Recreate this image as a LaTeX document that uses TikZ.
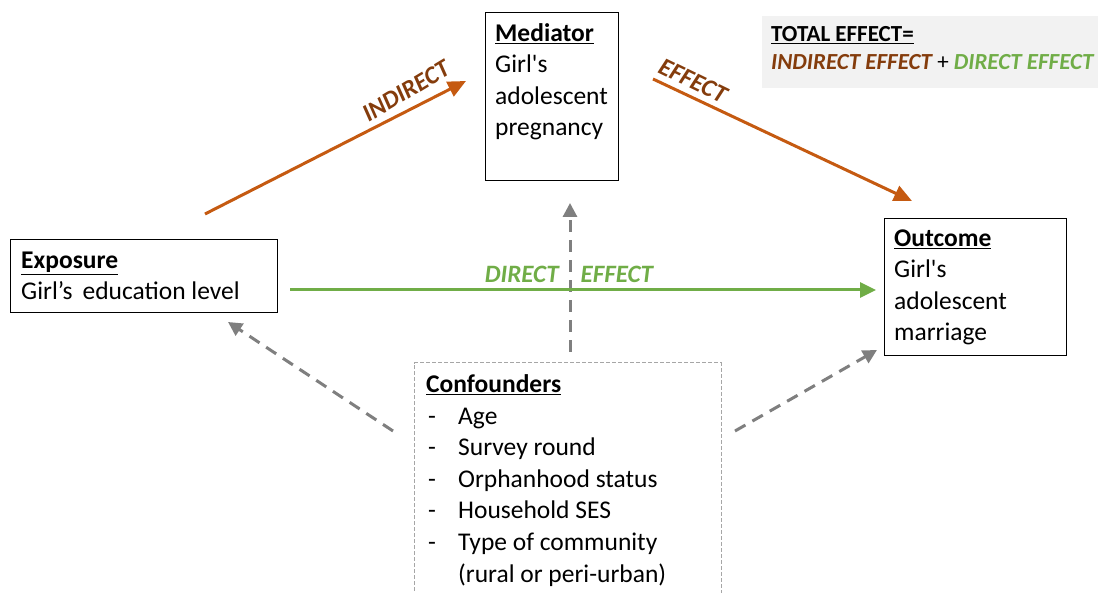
\documentclass[tikz,border=0pt]{standalone}
\usepackage{fontspec}
\setmainfont{Carlito}[Ligatures=TeXOff]
\usetikzlibrary{arrows.meta,calc}
\definecolor{orangeA}{HTML}{C55A11}
\definecolor{brownT}{HTML}{843C0C}
\definecolor{greenA}{HTML}{70AD47}
\definecolor{grayA}{HTML}{7F7F7F}
\definecolor{grayB}{HTML}{A6A6A6}
\definecolor{bgT}{HTML}{F2F2F2}
\tikzset{
  box/.style={draw=black, line width=1pt, inner sep=0pt},
  txt/.style={anchor=base west, align=left, inner sep=0pt, font=\fontsize{25.5}{31.6}\selectfont},
  lbl/.style={font=\fontsize{25}{30}\selectfont\bfseries\itshape, inner sep=0pt},
  oarr/.style={draw=orangeA, line width=3pt, -{Triangle[length=18pt,width=16pt]}},
  garr/.style={draw=greenA, line width=3pt, -{Triangle[length=16pt,width=15pt]}},
  darr/.style={draw=grayA, line width=3pt, dash pattern=on 12pt off 8pt, -{Triangle[length=14pt,width=14pt]}},
  confline/.style={draw=grayB, line width=1pt, dash pattern=on 4pt off 2pt},
}
\begin{document}
\begin{tikzpicture}[x=1pt,y=1pt]
\useasboundingbox (0,0) rectangle (1098,-593);
% boxes
\node[box, minimum width=133pt, minimum height=168pt] (med) at (551.5,-97) {};
\node[txt] (medt) at (495,-136) {\textbf{\underline{Mediator}}\\Girl's\\adolescent\\pregnancy};
\node[box, minimum width=267pt, minimum height=73pt] (exp) at (143.5,-276.5) {};
\node[txt] (expt) at (21,-300) {\textbf{\underline{Exposure}}\\Girl’s\, education level};
\node[box, minimum width=182pt, minimum height=137pt] (out) at (975,-287.5) {};
\node[txt] (outt) at (894,-341) {\textbf{\underline{Outcome}}\\Girl's\\adolescent\\marriage};
\node[fill=bgT, inner sep=0pt, minimum width=336pt, minimum height=72pt] (tot) at (930,-52) {};
\node[txt, font=\fontsize{23}{28}\selectfont] (tott) at (771,-70) {\textbf{\underline{TOTAL EFFECT=}}\\\textbf{\textit{\textcolor{brownT}{INDIRECT EFFECT}}} + \textbf{\textit{\textcolor{greenA}{DIRECT EFFECT}}}};
% confounders
\node[inner sep=0pt, minimum width=306pt, minimum height=240pt] (conf) at (568,-483) {};
\draw[confline] (conf.south west) -- (conf.north west) -- (conf.north east) -- (conf.south east);
\node[txt] (conft) at (426,-582) {\textbf{\underline{Confounders}}\\
\makebox[32pt][l]{\hspace{2pt}-}Age\\
\makebox[32pt][l]{\hspace{2pt}-}Survey round\\
\makebox[32pt][l]{\hspace{2pt}-}Orphanhood status\\
\makebox[32pt][l]{\hspace{2pt}-}Household SES\\
\makebox[32pt][l]{\hspace{2pt}-}Type of community\\
\hspace{32pt}(rural or peri-urban)};
% connector end points
\coordinate (ia) at (205,-214);
\coordinate (ib) at (466,-81);
\coordinate (ea) at (653,-79);
\coordinate (eb) at (912,-201);
\coordinate (da) at (290,-290);
\coordinate (db) at (876,-290);
\coordinate (va) at (570,-352);
\coordinate (vb) at (570,-203);
\coordinate (la) at (393,-431);
\coordinate (lb) at (228,-322);
\coordinate (ra) at (735,-431);
\coordinate (rb) at (877,-350);
% arrows
\draw[oarr] (ia) -- (ib);
\draw[oarr] (ea) -- (eb);
\draw[darr] (va) -- (vb);
\draw[garr] (da) -- (db);
\draw[darr] (la) -- (lb);
\draw[darr] (ra) -- (rb);
% labels
\node[lbl, text=brownT, rotate=31] (il) at (406,-91) {INDIRECT};
\node[lbl, text=brownT, rotate=-26] (el) at (693,-81) {EFFECT};
\node[lbl, text=greenA, anchor=base] (dl) at (569,-283) {DIRECT\hspace{22pt}EFFECT};
\end{tikzpicture}
\end{document}
